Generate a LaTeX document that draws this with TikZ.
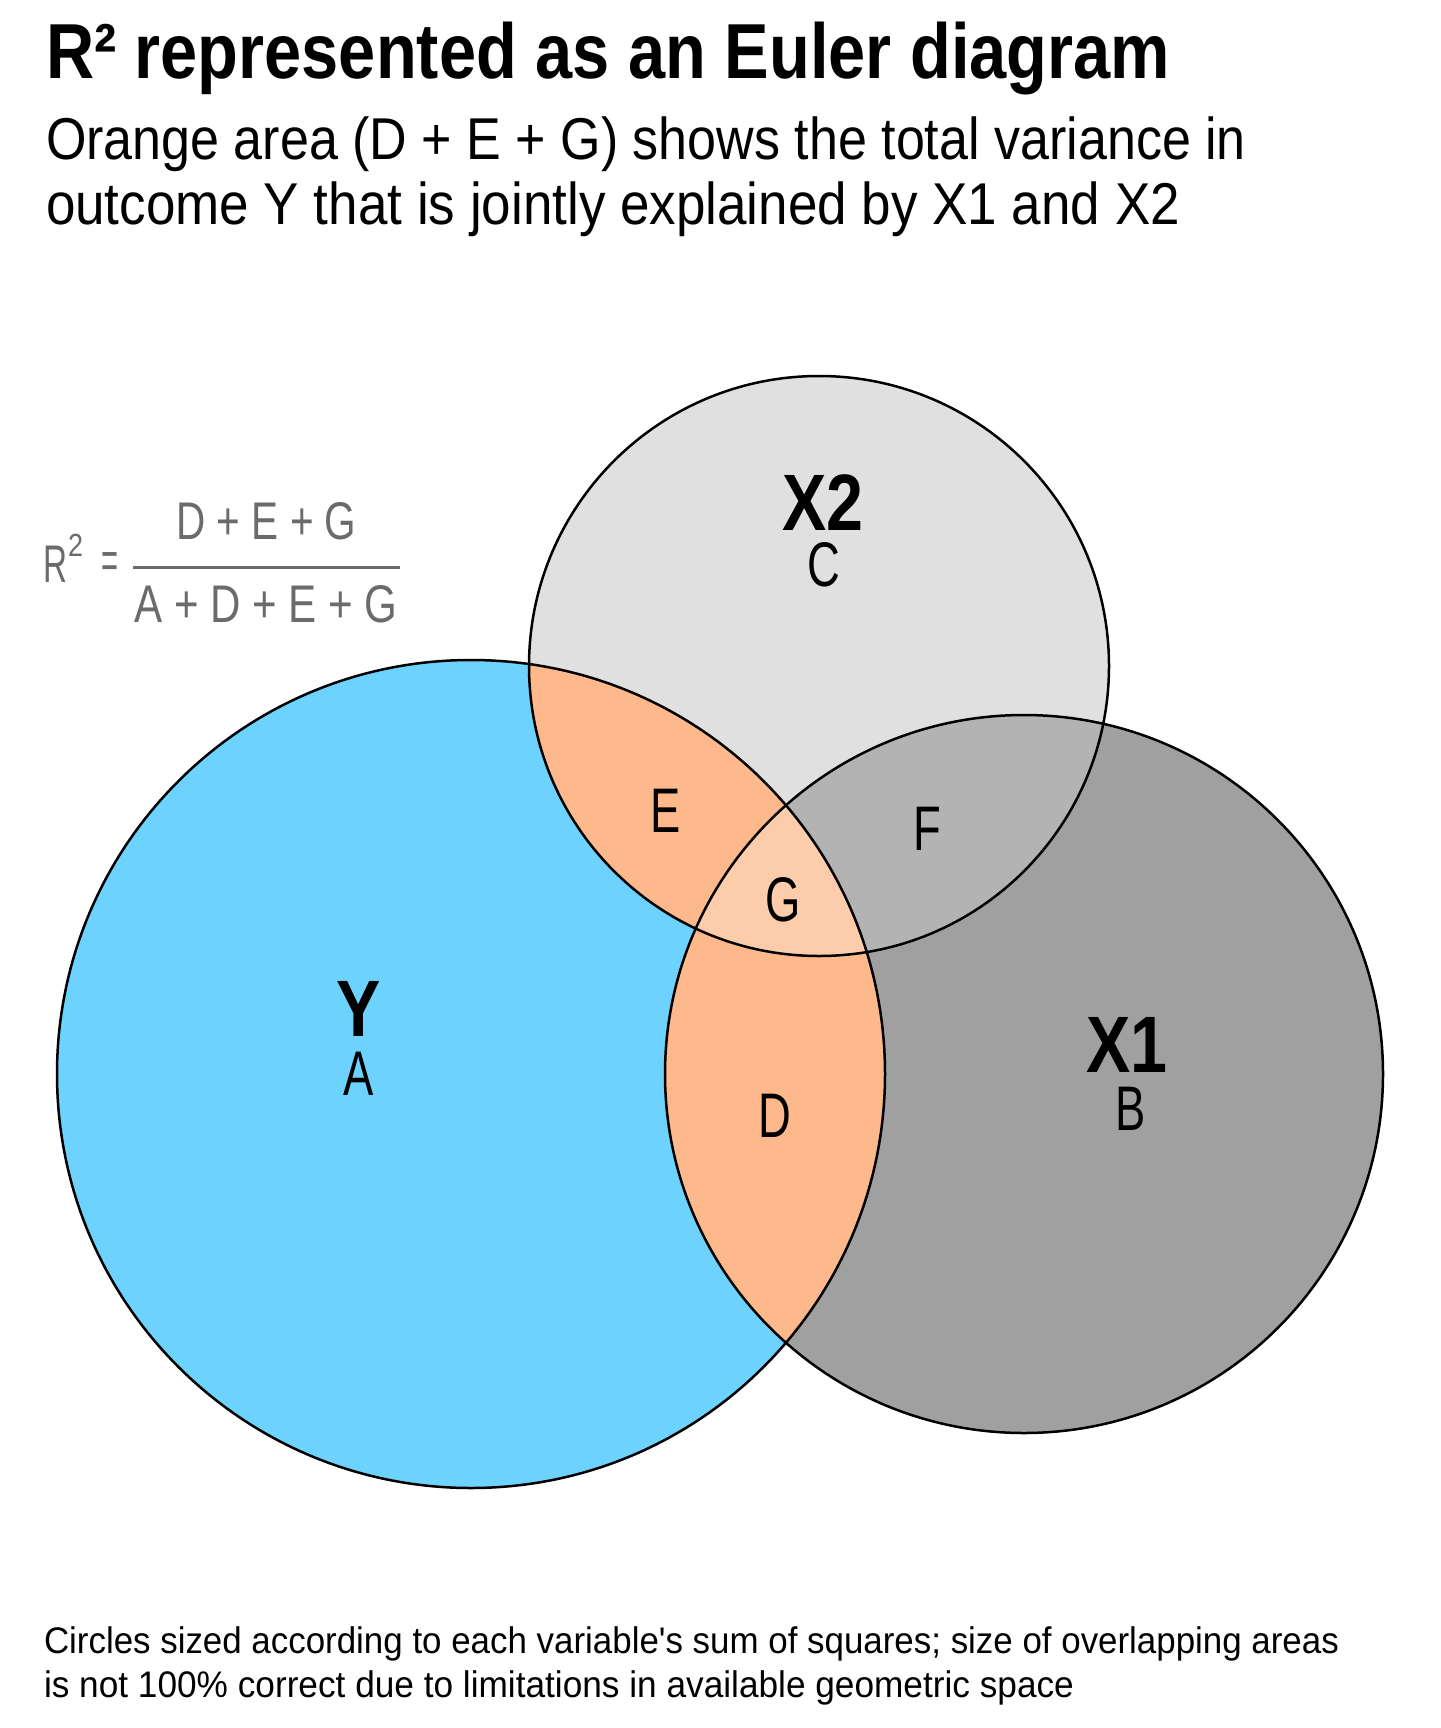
\documentclass[tikz,border=0pt]{standalone}
\usepackage{fontspec}
\setmainfont{Liberation Sans}
\newfontfamily\plainf{Liberation Sans}[Ligatures=TeXOff]
\newfontfamily\condf{Liberation Sans}[FakeStretch=0.72]
\newfontfamily\condb{Liberation Sans Bold}[FakeStretch=0.83]
\usepackage{graphicx}
\definecolor{yblue}{HTML}{6DD3FE}
\definecolor{orng}{HTML}{FDB88C}
\definecolor{orngl}{HTML}{FCCCAB}
\definecolor{gxtwo}{HTML}{E0E0E0}
\definecolor{gxone}{HTML}{A0A0A0}
\definecolor{gf}{HTML}{B3B3B3}
\definecolor{fgray}{HTML}{6B6B6B}
\newcommand{\fitw}[2]{\resizebox{#1}{\height}{#2}}
\begin{document}
\begin{tikzpicture}[x=1pt,y=-1pt,
  txt/.style={inner sep=0pt,outer sep=0pt,anchor=base west},
  lab/.style={inner sep=0pt,outer sep=0pt,anchor=base,text height=45pt,text depth=0pt,font=\condf\fontsize{63}{63}\selectfont},
  biglab/.style={inner sep=0pt,outer sep=0pt,anchor=base,text height=57pt,text depth=0pt,font=\condb\fontsize{80}{80}\selectfont},
  ring/.style={draw=black,line width=2.5pt},
  frm/.style={inner sep=0pt,outer sep=0pt,anchor=base,text=fgray,font=\fontsize{53}{53}\selectfont}]
\useasboundingbox (0,0) rectangle (1440,1728);
\fill[white] (0,0) rectangle (1440,1728);
\coordinate (cy) at (471,1074);
\coordinate (cxone) at (1024,1074);
\coordinate (cxtwo) at (819,666);
% base fills
\fill[gxone] (cxone) circle (359pt);
\fill[gxtwo] (cxtwo) circle (290pt);
\fill[yblue] (cy) circle (414pt);
% F region
\begin{scope}
  \clip (cxone) circle (359pt);
  \fill[gf] (cxtwo) circle (290pt);
\end{scope}
% D, E, G regions
\begin{scope}
  \clip (cy) circle (414pt);
  \fill[orng] (cxone) circle (359pt);
  \fill[orng] (cxtwo) circle (290pt);
  \clip (cxone) circle (359pt);
  \fill[orngl] (cxtwo) circle (290pt);
\end{scope}
% outlines
\draw[ring] (cy) circle (414pt);
\draw[ring] (cxone) circle (359pt);
\draw[ring] (cxtwo) circle (290pt);
% circle labels
\node[biglab] (ly) at (359,1036) {Y};
\node[lab] (la) at (359,1095) {A};
\node[biglab] (lxone) at (1127,1072) {X1};
\node[lab] (lb) at (1131,1130) {B};
\node[biglab] (lxtwo) at (823,530) {X2};
\node[lab] (lc) at (824,586) {C};
\node[lab] (ld) at (775,1137) {D};
\node[lab] (le) at (666,832) {E};
\node[lab] (lf) at (927,850) {F};
\node[lab] (lg) at (783,921) {G};
% title and subtitle
\node[txt] (title) at (46,79) {\fontsize{78}{80}\selectfont\bfseries\fitw{1124pt}{R² represented as an Euler diagram}};
\node[txt] (subone) at (46,160) {\fontsize{59}{60}\selectfont\fitw{1200pt}{Orange area (D + E + G) shows the total variance in}};
\node[txt] (subtwo) at (46,225) {\fontsize{59}{60}\selectfont\fitw{1134pt}{outcome Y that is jointly explained by X1 and X2}};
% formula
\node[txt,text=fgray,font=\fontsize{53}{53}\selectfont] (fr) at (43,582) {\fitw{24pt}{R}};
\node[txt,text=fgray,font=\fontsize{32}{32}\selectfont] (ftwo) at (68,556) {\fitw{15pt}{2}};
\node[frm,anchor=center] (feq) at (110,566) {\fitw{17pt}{=}};
\node[frm] (fnum) at (266.5,539) {\fitw{180pt}{D + E + G}};
\node[frm] (fden) at (266,622) {\fitw{263pt}{A + D + E + G}};
\coordinate (barl) at (133,567);
\coordinate (barr) at (400,567);
\draw[fgray,line width=3pt] (barl) -- (barr);
% footnote
\node[txt,font=\plainf\fontsize{37}{37}\selectfont] (noteone) at (44,1653) {\fitw{1295pt}{Circles sized according to each variable's sum of squares; size of overlapping areas}};
\node[txt,font=\plainf\fontsize{37}{37}\selectfont] (notetwo) at (44,1697) {\fitw{1030pt}{is not 100\% correct due to limitations in available geometric space}};
\end{tikzpicture}
\end{document}
